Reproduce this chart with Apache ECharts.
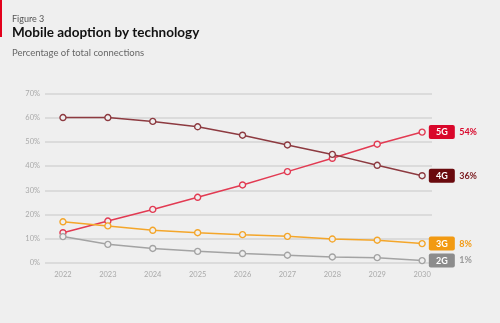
<!DOCTYPE html>
<html>
<head>
<meta charset="utf-8">
<script src="https://cdn.jsdelivr.net/npm/echarts@6/dist/echarts.min.js"></script>
<style>
  html, body { margin: 0; padding: 0; background: #efefef; }
  #chart { width: 500px; height: 323px; }
</style>
</head>
<body>
<div id="chart"></div>
<script>
// Years on the x axis
var years = [2022, 2023, 2024, 2025, 2026, 2027, 2028, 2029, 2030];
// Share of total connections, percent
var share5G = [12.5, 17.3, 22.1, 27.1, 32.2, 37.7, 43.2, 49.0, 54];
var share4G = [60.0, 60.0, 58.4, 56.2, 52.7, 48.7, 44.8, 40.3, 36];
var share3G = [17.0, 15.3, 13.5, 12.5, 11.7, 11.0, 9.9, 9.4, 8];
var share2G = [10.9, 7.7, 6.0, 4.8, 3.9, 3.2, 2.5, 2.2, 1];
var yTicks = [0, 10, 20, 30, 40, 50, 60, 70];

var techs = [
  { name: '5G', data: share5G, line: '#e23a52', badge: '#d9072b', text: '#d9072b' },
  { name: '4G', data: share4G, line: '#8d3a40', badge: '#6a0a0e', text: '#7a1a1e' },
  { name: '3G', data: share3G, line: '#f4a62a', badge: '#f29a12', text: '#f29a12' },
  { name: '2G', data: share2G, line: '#a3a3a3', badge: '#8c8c8c', text: '#9a9a9a' }
];

var FONT = 'Lato, "Noto Sans", sans-serif';

function pairs(arr) {
  return arr.map(function (v, i) { return [years[i], v]; });
}

var series = techs.map(function (t) {
  var data = pairs(t.data);
  var last = data.length - 1;
  data[last] = {
    value: data[last],
    label: {
      show: true,
      position: 'right',
      distance: 3,
      formatter: '{b|' + t.name + '} {v|' + t.data[last] + '%}',
      rich: {
        b: {
          backgroundColor: t.badge,
          color: '#fff',
          fontFamily: FONT,
          fontWeight: 'bold',
          fontSize: 9,
          width: 18,
          align: 'center',
          padding: [3, 4, 2, 4],
          borderRadius: 2
        },
        v: {
          color: t.text,
          fontFamily: FONT,
          fontWeight: 'bold',
          fontSize: 9,
          padding: [0, 0, 0, 1]
        }
      }
    }
  };
  return {
    name: t.name,
    type: 'line',
    data: data,
    symbol: 'circle',
    symbolSize: 6,
    showAllSymbol: true,
    lineStyle: { color: t.line, width: 1.5 },
    itemStyle: { color: '#efefef', borderColor: t.line, borderWidth: 1.4 },
    emphasis: { disabled: true },
    animation: false
  };
});

var chart = echarts.init(document.getElementById('chart'), null, { renderer: 'canvas' });
chart.setOption({
  backgroundColor: '#efefef',
  animation: false,
  graphic: [
    { type: 'rect', shape: { x: 0, y: 0, width: 2, height: 37 }, style: { fill: '#e3001b' } },
    { type: 'text', left: 12, top: 15, style: { text: 'Figure 3', font: '9px ' + FONT, fill: '#555' } },
    { type: 'text', left: 12, top: 26, style: { text: 'Mobile adoption by technology', font: 'bold 13.5px ' + FONT, fill: '#111' } },
    { type: 'text', left: 12, top: 48, style: { text: 'Percentage of total connections', font: '9.5px ' + FONT, fill: '#666' } }
  ],
  grid: { left: 45, right: 68, top: 93.3, bottom: 60 },
  xAxis: {
    type: 'value',
    min: 2021.6,
    max: 2030.22,
    axisLine: { show: false },
    axisTick: { show: false },
    splitLine: { show: false },
    axisLabel: {
      customValues: years,
      color: '#aaa',
      fontFamily: FONT,
      fontSize: 7.5,
      margin: 8,
      formatter: function (v) { return String(v); }
    }
  },
  yAxis: {
    type: 'value',
    min: 0,
    max: 70,
    interval: 10,
    axisLine: { show: false },
    axisTick: { show: false },
    splitLine: { lineStyle: { color: '#d4d4d4', width: 1.5 } },
    axisLabel: {
      customValues: yTicks,
      color: '#aaa',
      fontFamily: FONT,
      fontSize: 7.5,
      margin: 5,
      formatter: '{value}%'
    }
  },
  series: series
});
</script>
</body>
</html>
